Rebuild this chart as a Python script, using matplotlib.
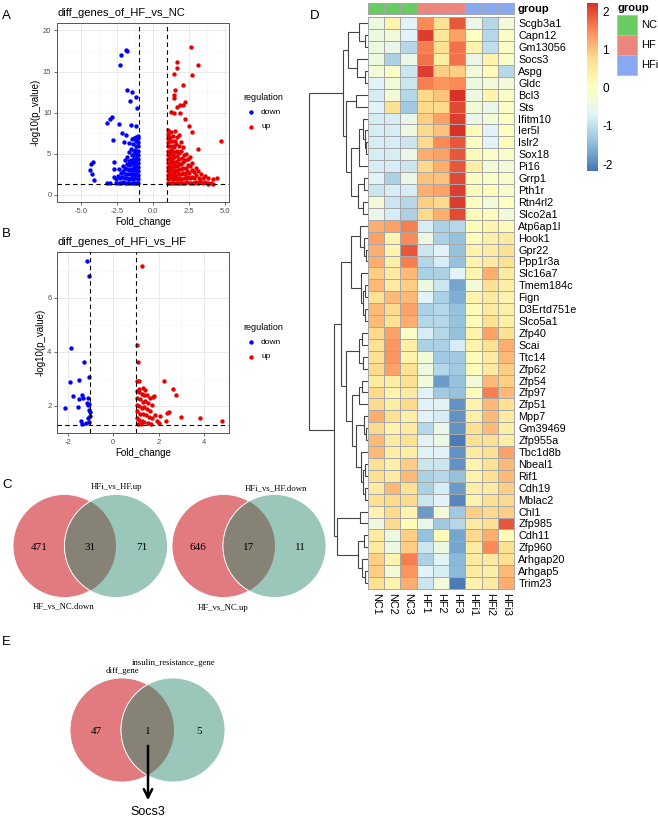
import matplotlib
matplotlib.use("Agg")
import matplotlib.pyplot as plt
import numpy as np
from matplotlib.patches import Circle, Rectangle
from matplotlib.colors import LinearSegmentedColormap, ListedColormap, Normalize
from matplotlib.cm import ScalarMappable

plt.rcParams['font.family'] = ['Liberation Sans', 'DejaVu Sans']
plt.rcParams['axes.unicode_minus'] = False

# ---------------- data ----------------
# panel A: HF vs NC (fold change, -log10 p)
a_down = [(-1.88, 17.6), (-1.79, 17.5), (-2.20, 17.0), (-2.27, 15.8), (-1.79, 12.8), (-1.46, 12.5),
          (-1.18, 11.9), (-1.57, 11.4), (-1.10, 10.6), (-2.85, 9.5), (-3.00, 9.2), (-3.20, 8.8),
          (-2.35, 8.6), (-1.50, 8.5), (-1.20, 8.4), (-2.15, 7.5), (-1.87, 7.3), (-2.76, 6.7),
          (-2.00, 6.4), (-2.70, 4.0), (-4.19, 4.0), (-4.33, 3.7), (-4.37, 3.0), (-4.26, 2.6),
          (-4.07, 1.8), (-3.17, 1.5), (-2.98, 1.4),
          (-1.03, 1.4), (-1.06, 1.9), (-1.02, 2.4), (-1.05, 2.9), (-1.04, 3.4), (-1.07, 3.9), (-1.03, 4.4),
          (-1.06, 4.9), (-1.02, 5.4), (-1.05, 5.9), (-1.04, 6.4), (-1.06, 6.9), (-1.03, 7.2),
          (-1.18, 1.5), (-1.22, 2.0), (-1.17, 2.5), (-1.21, 3.0), (-1.19, 3.5), (-1.23, 4.0), (-1.18, 4.5),
          (-1.20, 5.0), (-1.22, 5.5), (-1.17, 6.0), (-1.21, 6.6), (-1.19, 7.1),
          (-1.34, 1.4), (-1.37, 1.9), (-1.33, 2.4), (-1.36, 2.9), (-1.35, 3.4), (-1.38, 3.9), (-1.33, 4.4),
          (-1.36, 4.9), (-1.34, 5.3), (-1.37, 6.2), (-1.33, 6.9),
          (-1.49, 1.5), (-1.52, 2.1), (-1.48, 2.6), (-1.51, 3.2), (-1.50, 3.7), (-1.53, 4.3), (-1.49, 4.8),
          (-1.51, 5.6), (-1.48, 6.8),
          (-1.64, 1.4), (-1.67, 1.9), (-1.63, 2.5), (-1.66, 3.0), (-1.65, 3.6), (-1.68, 4.1), (-1.64, 5.2),
          (-1.66, 6.3),
          (-1.79, 1.5), (-1.82, 2.0), (-1.78, 2.6), (-1.81, 3.1), (-1.80, 3.8), (-1.83, 4.6),
          (-1.94, 1.4), (-1.97, 2.0), (-1.93, 2.5), (-1.96, 3.3), (-1.95, 4.2),
          (-2.09, 1.6), (-2.12, 2.2), (-2.08, 2.9), (-2.11, 3.5),
          (-2.24, 1.4), (-2.27, 2.0), (-2.23, 2.7),
          (-2.39, 1.5), (-2.42, 2.3), (-2.38, 3.2),
          (-2.54, 1.4), (-2.57, 1.9), (-2.69, 2.2), (-2.72, 3.1)]

a_up = [(2.62, 18.0), (1.64, 16.1), (1.69, 15.4), (3.13, 15.8), (1.44, 14.7), (2.71, 14.6), (2.10, 13.4),
        (1.52, 12.8), (1.44, 12.2), (1.46, 11.8), (2.25, 11.3), (2.06, 10.9), (1.90, 10.9), (1.64, 10.7),
        (1.25, 10.1), (1.44, 10.0), (1.88, 9.9), (2.25, 9.2), (2.53, 8.4), (4.70, 6.6), (3.15, 5.6),
        (2.70, 7.6), (4.43, 2.1), (4.15, 1.9), (3.85, 1.35), (4.15, 1.35),
        (1.03, 1.4), (1.06, 1.9), (1.02, 2.4), (1.05, 2.9), (1.04, 3.4), (1.07, 3.9), (1.03, 4.4),
        (1.06, 4.9), (1.02, 5.4), (1.05, 5.9), (1.04, 6.4), (1.06, 6.9), (1.03, 7.4), (1.05, 7.9),
        (1.18, 1.5), (1.22, 2.0), (1.17, 2.5), (1.21, 3.0), (1.19, 3.5), (1.23, 4.0), (1.18, 4.5),
        (1.20, 5.0), (1.22, 5.5), (1.17, 6.0), (1.21, 6.5), (1.19, 7.0), (1.22, 7.6),
        (1.34, 1.4), (1.37, 1.9), (1.33, 2.4), (1.36, 2.9), (1.35, 3.4), (1.38, 3.9), (1.33, 4.4),
        (1.36, 4.9), (1.34, 5.4), (1.37, 5.9), (1.33, 6.5), (1.36, 7.2),
        (1.49, 1.5), (1.52, 2.0), (1.48, 2.5), (1.51, 3.0), (1.50, 3.5), (1.53, 4.0), (1.49, 4.6),
        (1.51, 5.2), (1.48, 5.8), (1.52, 6.6), (1.50, 7.8),
        (1.64, 1.4), (1.67, 1.9), (1.63, 2.4), (1.66, 2.9), (1.65, 3.5), (1.68, 4.1), (1.64, 4.7),
        (1.66, 5.4), (1.63, 6.2), (1.67, 7.0),
        (1.79, 1.5), (1.82, 2.0), (1.78, 2.6), (1.81, 3.2), (1.80, 3.8), (1.83, 4.4), (1.79, 5.1),
        (1.81, 5.9), (1.78, 7.3),
        (1.94, 1.4), (1.97, 1.9), (1.93, 2.5), (1.96, 3.1), (1.95, 3.7), (1.98, 4.5), (1.94, 5.4),
        (1.96, 6.4),
        (2.09, 1.5), (2.12, 2.1), (2.08, 2.7), (2.11, 3.3), (2.10, 4.0), (2.13, 4.9), (2.09, 5.8),
        (2.24, 1.4), (2.27, 2.0), (2.23, 2.6), (2.26, 3.3), (2.25, 4.2), (2.28, 5.0),
        (2.39, 1.6), (2.42, 2.2), (2.38, 2.9), (2.41, 3.6), (2.40, 4.4),
        (2.54, 1.4), (2.57, 2.0), (2.53, 2.7), (2.56, 3.5), (2.55, 4.6),
        (2.69, 1.5), (2.72, 2.2), (2.68, 3.0), (2.71, 3.9),
        (2.84, 1.4), (2.87, 2.0), (2.83, 2.8),
        (2.99, 1.6), (3.02, 2.4), (2.98, 3.3),
        (3.14, 1.4), (3.17, 2.1), (3.13, 2.9),
        (3.29, 1.7), (3.32, 2.5), (3.44, 1.4), (3.47, 2.0),
        (3.59, 1.6), (3.62, 2.3), (3.79, 1.4), (3.82, 2.0), (4.00, 1.5)]

# panel B: HFi vs HF
b_down = [(-1.16, 7.35), (-1.04, 6.81), (-1.86, 4.15), (-1.27, 3.62), (-1.04, 3.08), (-1.50, 2.95),
          (-1.88, 2.89), (-1.75, 2.37), (-1.38, 2.41), (-1.31, 2.28), (-1.48, 2.27), (-1.09, 2.28),
          (-1.16, 2.10), (-1.06, 2.07), (-2.11, 1.91), (-1.53, 1.95), (-1.01, 1.77), (-1.11, 1.55),
          (-1.01, 1.62), (-1.41, 1.46), (-1.39, 1.32), (-1.19, 1.38), (-1.05, 1.39), (-1.12, 2.05),
          (-1.04, 1.85)]

b_up = [(1.26, 7.18), (1.07, 4.25), (1.08, 3.61), (1.04, 2.93), (1.12, 2.93), (2.24, 2.92), (2.64, 2.63),
        (2.76, 2.42), (1.76, 2.34), (1.41, 2.60), (1.05, 2.55), (1.15, 2.50), (1.25, 2.45), (1.35, 2.40),
        (1.48, 2.42), (1.62, 2.30), (1.81, 2.35), (1.05, 2.30), (1.20, 2.25), (1.30, 2.15), (1.42, 2.20),
        (1.55, 2.12), (1.70, 2.05), (1.05, 2.05), (1.15, 1.98), (1.28, 1.92), (1.38, 1.95), (1.50, 1.88),
        (1.62, 1.80), (1.05, 1.80), (1.18, 1.72), (1.30, 1.70), (1.45, 1.65), (1.58, 1.60), (1.72, 1.55),
        (1.05, 1.55), (1.15, 1.48), (1.25, 1.45), (1.38, 1.40), (1.52, 1.38), (1.10, 1.35), (1.22, 1.32),
        (1.85, 1.68), (2.07, 1.63), (2.44, 1.77), (2.37, 1.74), (2.98, 1.58), (2.32, 1.44), (2.04, 1.36),
        (3.83, 1.55), (4.79, 1.44), (1.95, 1.45), (1.65, 1.35), (1.12, 2.62), (1.32, 2.65)]

# venn counts
venn_c1 = [471, 31, 71]
venn_c2 = [646, 17, 11]
venn_e = [47, 1, 5]

# panel D heatmap
samples = ['NC1', 'NC2', 'NC3', 'HF1', 'HF2', 'HF3', 'HFi1', 'HFi2', 'HFi3']
sample_group = [0, 0, 0, 1, 1, 1, 2, 2, 2]
groups = ['NC', 'HF', 'HFi']
genes = ['Scgb3a1', 'Capn12', 'Gm13056', 'Socs3', 'Aspg', 'Gldc', 'Bcl3', 'Sts', 'Ifitm10', 'Ier5l',
         'Islr2', 'Sox18', 'Pi16', 'Grrp1', 'Pth1r', 'Rtn4rl2', 'Slco2a1', 'Atp6ap1l', 'Hook1', 'Gpr22',
         'Ppp1r3a', 'Slc16a7', 'Tmem184c', 'Fign', 'D3Ertd751e', 'Slco5a1', 'Zfp40', 'Scai', 'Ttc14',
         'Zfp62', 'Zfp54', 'Zfp97', 'Zfp51', 'Mpp7', 'Gm39469', 'Zfp955a', 'Tbc1d8b', 'Nbeal1', 'Rif1',
         'Cdh19', 'Mblac2', 'Chl1', 'Zfp985', 'Cdh11', 'Zfp960', 'Arhgap20', 'Arhgap5', 'Trim23']
zscores = [
    [-0.4, 0.3, -0.7, 1.5, 0.7, 1.9, -0.5, -1.1, -0.3],
    [-0.4, -0.3, -0.7, 2.1, 0.6, 1.3, 0.0, -1.1, -0.1],
    [-0.4, -0.5, -1.1, 1.6, 0.7, 1.7, 0.3, -1.0, -0.1],
    [-0.4, -1.2, -0.5, 1.7, 0.4, 1.7, -0.5, 0.3, -0.1],
    [-0.3, -0.1, -0.9, 2.1, 0.9, 0.9, -0.3, 0.1, -1.1],
    [-0.7, -0.3, -0.9, 1.6, 1.4, 1.5, -0.4, -0.3, -0.3],
    [-0.8, -0.3, -1.1, 0.8, 1.0, 2.2, -0.4, 0.3, -0.1],
    [-0.7, 0.7, -1.3, 0.8, 0.8, 2.0, -0.3, -0.5, -0.1],
    [-0.8, -0.8, -0.5, 0.9, 1.3, 2.1, -0.5, -0.3, 0.0],
    [-0.8, -0.8, -0.4, 0.8, 1.0, 2.2, 0.1, -0.7, 0.0],
    [-0.8, -0.8, -0.9, 0.8, 1.5, 1.9, 0.0, -0.7, 0.1],
    [-0.8, -0.8, -0.5, 1.2, 1.3, 1.9, 0.1, -0.1, -0.1],
    [-0.8, -0.8, -0.9, 0.8, 1.2, 1.9, 0.4, -0.3, -0.3],
    [-0.7, -1.2, -0.5, 1.0, 1.0, 2.0, 0.0, -0.1, -0.1],
    [-0.9, -0.8, -0.8, 1.2, 1.3, 2.1, 0.1, 0.1, -0.1],
    [-0.3, -0.9, -1.1, 0.9, 0.8, 2.1, 0.0, -0.3, 0.0],
    [-0.5, -0.8, -1.2, 0.8, 1.2, 2.0, 0.1, 0.1, -0.3],
    [1.2, 1.3, 1.6, -0.8, -1.2, -1.1, 0.1, 0.3, 0.1],
    [1.3, 0.3, 1.5, -0.4, -1.2, -1.4, 0.1, 0.4, 0.5],
    [1.2, 0.3, 1.9, -0.9, -0.7, -1.4, 0.3, 0.5, 0.7],
    [1.2, 0.4, 1.6, -1.1, -0.8, -1.4, 0.3, 0.5, 0.7],
    [0.9, 0.5, 1.1, -1.2, -1.2, -0.7, 0.3, 1.2, 0.5],
    [1.1, 0.5, 0.9, -0.4, -0.9, -1.7, -0.3, 0.7, 0.4],
    [0.7, 1.1, 1.1, -0.7, -1.2, -1.6, 0.3, 0.5, 0.3],
    [1.1, 0.8, 1.3, -1.2, -1.1, -1.4, 0.1, 0.5, 0.4],
    [1.1, 0.7, 1.2, -1.1, -1.1, -1.4, 0.1, 0.7, 0.4],
    [0.8, 1.3, -0.1, -0.8, -1.1, -1.4, 0.3, 1.3, 0.7],
    [0.7, 1.4, 0.4, -1.2, -1.2, -0.8, 0.3, 0.7, 1.2],
    [0.7, 1.4, 0.3, -0.3, -1.3, -1.3, 0.1, 0.5, 1.1],
    [0.8, 1.3, 0.7, -0.4, -1.1, -1.3, 0.1, 0.5, 0.9],
    [0.5, 0.4, 0.7, -0.3, -1.8, -1.4, -0.3, 1.1, 0.9],
    [0.8, 0.3, 0.5, -0.7, -1.3, -1.4, 0.1, 1.6, 1.1],
    [0.8, 0.4, 0.8, -0.7, -0.7, -1.9, 0.3, 1.1, 0.7],
    [1.2, 0.7, 0.4, -0.7, -0.8, -1.9, 0.4, 1.1, 0.5],
    [0.8, 0.3, 0.5, -1.1, -0.5, -1.9, 0.7, 1.1, 0.4],
    [1.1, 0.5, 0.7, -0.7, -0.4, -2.1, 0.7, 0.7, 0.4],
    [1.1, 0.4, 0.4, -0.7, -0.7, -1.9, 0.5, 0.7, 1.3],
    [0.7, 0.4, 0.9, -0.9, -0.9, -1.9, 0.3, 0.7, 1.1],
    [0.7, 0.5, 1.1, -1.2, -1.1, -1.4, 0.3, 0.7, 1.1],
    [0.5, 1.1, 0.7, -1.2, -0.8, -1.8, 0.4, 0.5, 0.9],
    [0.7, 0.8, 0.8, -0.9, -0.7, -2.0, 0.3, 0.7, 0.8],
    [0.3, 0.8, 0.3, -1.8, -0.3, -1.3, 0.9, 0.8, 0.9],
    [-0.4, 0.8, 0.1, -0.5, -1.3, -1.1, 0.5, 0.7, 1.9],
    [0.5, -0.4, 0.9, -1.4, 0.1, -1.7, 0.8, 1.2, 0.1],
    [0.5, -0.4, 0.9, -0.9, -0.4, -1.7, 0.5, 1.5, 0.7],
    [0.9, 0.3, 1.6, -1.2, -0.7, -1.5, 0.5, 0.5, 0.7],
    [0.9, -0.3, 1.4, -0.7, -0.8, -1.5, 0.5, 0.4, 1.1],
    [0.7, 0.3, 1.2, -0.9, -0.3, -2.1, 0.3, 0.5, 1.2],
]
# row clustering: [left, right, height]; leaves are row indices
row_tree = [
    [[[0, [1, 2, 3], 9], [3, [4, 5, 3], 11], 20],
     [[6, 7, 12], [[[8, [9, [10, 11, 2], 3], 5], 12, 9], [[13, 14, 4], [15, 16, 5], 10], 17], 22],
     25],
    [[[[17, [18, [19, 20, 2], 4], 8], [21, [[22, 23, 3], [24, 25, 3], 5], 7], 17],
      [[[26, 27, 6], [28, 29, 5], 9],
       [[[30, 31, 6], 32, 9], [[33, [34, 35, 2], 4], [36, [[37, 38, 3], [39, 40, 3], 5], 7], 12], 16], 22],
      27],
     [[41, 42, 8], [[43, 44, 4], [45, [46, 47, 3], 6], 10], 31],
     34],
    59]

# ---------------- figure ----------------
W, H = 658, 818
fig = plt.figure(figsize=(W / 100, H / 100), dpi=100)


def px_axes(x0, y0, x1, y1):
    return fig.add_axes([x0 / W, 1 - y1 / H, (x1 - x0) / W, (y1 - y0) / H])


ov = px_axes(0, 0, W, H)
ov.set_xlim(0, W)
ov.set_ylim(H, 0)
ov.axis('off')

BLUE, RED = '#0000FF', '#E60000'


def volcano(box, down, up, xlim, ylim, xt, xtl, yt, xminor, yminor, title):
    ax = px_axes(*box)
    dx, dy = zip(*down)
    ux, uy = zip(*up)
    ax.scatter(dx, dy, s=10, c=BLUE, lw=0, zorder=3)
    ax.scatter(ux, uy, s=10, c=RED, lw=0, zorder=3)
    for v in (-1, 1):
        ax.axvline(v, color='black', ls=(0, (4, 3)), lw=0.8, zorder=4)
    ax.axhline(-np.log10(0.05), color='black', ls=(0, (4, 3)), lw=0.8, zorder=4)
    ax.set_xlim(*xlim)
    ax.set_ylim(*ylim)
    ax.set_xticks(xt)
    ax.set_xticklabels(xtl)
    ax.set_yticks(yt)
    ax.set_xticks(xminor, minor=True)
    ax.set_yticks(yminor, minor=True)
    ax.grid(which='major', color='#EBEBEB', lw=0.7)
    ax.grid(which='minor', color='#F3F3F3', lw=0.4)
    ax.set_axisbelow(True)
    ax.tick_params(which='major', length=2.5, width=0.5, color='#333333', labelsize=5.5,
                   labelcolor='#4D4D4D', pad=1.5)
    ax.tick_params(which='minor', length=0)
    for s in ax.spines.values():
        s.set_color('#555555')
        s.set_linewidth(0.7)
    ax.set_xlabel('Fold_change', fontsize=7, labelpad=2)
    ax.set_ylabel('-log10(p_value)', fontsize=7, labelpad=1.5)
    ax.set_title(title, fontsize=8, loc='left', pad=5)
    return ax


volcano((57, 23, 229, 202), a_down, a_up, (-6.67, 5.28), (-0.86, 20.9),
        [-5, -2.5, 0, 2.5, 5], ['-5.0', '-2.5', '0.0', '2.5', '5.0'], [0, 5, 10, 15, 20],
        [-6.25, -3.75, -1.25, 1.25, 3.75], [2.5, 7.5, 12.5, 17.5], 'diff_genes_of_HF_vs_NC')
volcano((57, 252, 229, 433), b_down, b_up, (-2.47, 5.1), (1.0, 7.69),
        [-2, 0, 2, 4], ['-2', '0', '2', '4'], [2, 4, 6],
        [-1, 1, 3, 5], [3, 5, 7], 'diff_genes_of_HFi_vs_HF')

# legends for volcano plots
for y0 in (97, 327):
    ov.text(243, y0, 'regulation', fontsize=6.5, va='center', ha='left')
    ov.scatter([251], [y0 + 15], s=10, c=BLUE, lw=0)
    ov.text(261, y0 + 15, 'down', fontsize=6, va='center', ha='left')
    ov.scatter([251], [y0 + 30], s=10, c=RED, lw=0)
    ov.text(261, y0 + 30, 'up', fontsize=6, va='center', ha='left')

# panel letters
for lab, x, y in [('A', 2, 16), ('B', 2, 234), ('C', 2, 485), ('D', 310, 16), ('E', 2, 642)]:
    ov.text(x, y, lab, fontsize=9.5, va='center', ha='left')

# ---------------- venns ----------------
VRED, VGREEN, VGRAY = '#E17B7F', '#9BC7BB', '#878276'


def venn(c1, c2, r, counts):
    a = Circle(c1, r, fc=VRED, ec='white', lw=0.6)
    b = Circle(c2, r, fc=VGREEN, ec='white', lw=0.6)
    ov.add_patch(a)
    ov.add_patch(b)
    lens = Circle(c2, r, fc=VGRAY, ec='white', lw=0.6)
    ov.add_patch(lens)
    lens.set_clip_path(a)
    ys = c1[1] + 1
    xs = [c1[0] - r / 2, (c1[0] + c2[0]) / 2, c2[0] + r / 2]
    for x, n in zip(xs, counts):
        ov.text(x, ys, str(n), fontsize=8, family='Liberation Serif', ha='center', va='center')


venn((64.5, 546), (116, 546), 51.5, venn_c1)
venn((223.5, 546), (274.5, 546), 51.5, venn_c2)
venn((122, 730), (173, 730), 52, venn_e)
serif = dict(fontsize=6.3, family='Liberation Serif', ha='center', va='center')
ov.text(116, 487, 'HFi_vs_HF.up', **serif)
ov.text(64, 606, 'HF_vs_NC.down', **serif)
ov.text(276, 488, 'HFi_vs_HF.down', **serif)
ov.text(223.5, 608, 'HF_vs_NC.up', **serif)
ov.text(122, 671, 'diff_gene', **serif)
ov.text(174, 663, 'insulin_resistance_gene', **serif)
ov.annotate('', xy=(148, 803), xytext=(148, 743),
            arrowprops=dict(arrowstyle='->, head_length=0.6, head_width=0.3', lw=1.8, color='black'))
ov.text(148, 812, 'Socs3', fontsize=9, ha='center', va='center')

# ---------------- heatmap ----------------
cmap = LinearSegmentedColormap.from_list(
    'rdylbu', ['#4575B4', '#91BFDB', '#E0F3F8', '#FFFFBF', '#FEE090', '#FC8D59', '#D73027'])
norm = Normalize(vmin=-2.18, vmax=2.22)
vals = np.array(zscores)
nrow, ncol = vals.shape
GRID = '#A8A8A8'

hm = px_axes(367.7, 17.3, 514.3, 589)
mesh = hm.pcolormesh(vals, cmap=cmap, norm=norm, edgecolors=GRID, linewidth=0.5)
mesh.set_clip_on(False)
hm.set_xlim(0, ncol)
hm.set_ylim(nrow, 0)
hm.yaxis.tick_right()
hm.set_yticks(np.arange(nrow) + 0.5)
hm.set_yticklabels(genes)
hm.set_xticks(np.arange(ncol) + 0.5)
hm.set_xticklabels(samples, rotation=270, va='top', ha='center')
hm.tick_params(length=0, labelsize=7.8, pad=3)
for s in hm.spines.values():
    s.set_visible(False)

grp_colors = ['#6BCB63', '#E9877F', '#88A8F2']
an = px_axes(367.7, 2.7, 514.3, 14)
amesh = an.pcolormesh([sample_group], cmap=ListedColormap(grp_colors), vmin=-0.5, vmax=2.5,
                      edgecolors=GRID, linewidth=0.5)
amesh.set_clip_on(False)
an.set_xlim(0, ncol)
an.set_ylim(1, 0)
an.axis('off')
ov.text(518, 8.5, 'group', fontsize=8, fontweight='bold', va='center', ha='left')

# dendrogram
dn = px_axes(300, 17.3, 367.7, 589)
dn.set_xlim(67.7, 0)
dn.set_ylim(nrow, 0)
dn.axis('off')


def draw_node(node):
    if isinstance(node, int):
        return node + 0.5, 0
    left, right, h = node
    y1, h1 = draw_node(left)
    y2, h2 = draw_node(right)
    dn.plot([h1, h, h, h2], [y1, y1, y2, y2], color='#444444', lw=0.8, solid_joinstyle='miter')
    return (y1 + y2) / 2, h


draw_node(row_tree)

# colorbar
cax = px_axes(586.7, 3, 598.3, 171)
cb = fig.colorbar(ScalarMappable(norm=norm, cmap=cmap), cax=cax)
cb.outline.set_visible(False)
cb.set_ticks([-2, -1, 0, 1, 2])
cax.tick_params(length=0, labelsize=8.5, pad=3)

# group legend
ov.text(617, 8.3, 'group', fontsize=8, fontweight='bold', va='center', ha='left')
for i, (g, c) in enumerate(zip(groups, grp_colors)):
    ov.add_patch(Rectangle((617, 15 + 20 * i), 20, 20, fc=c, ec='#BBBBBB', lw=0.6))
    ov.text(641, 25 + 20 * i, g, fontsize=8, va='center', ha='left')

fig.savefig('out.png', dpi=100)
